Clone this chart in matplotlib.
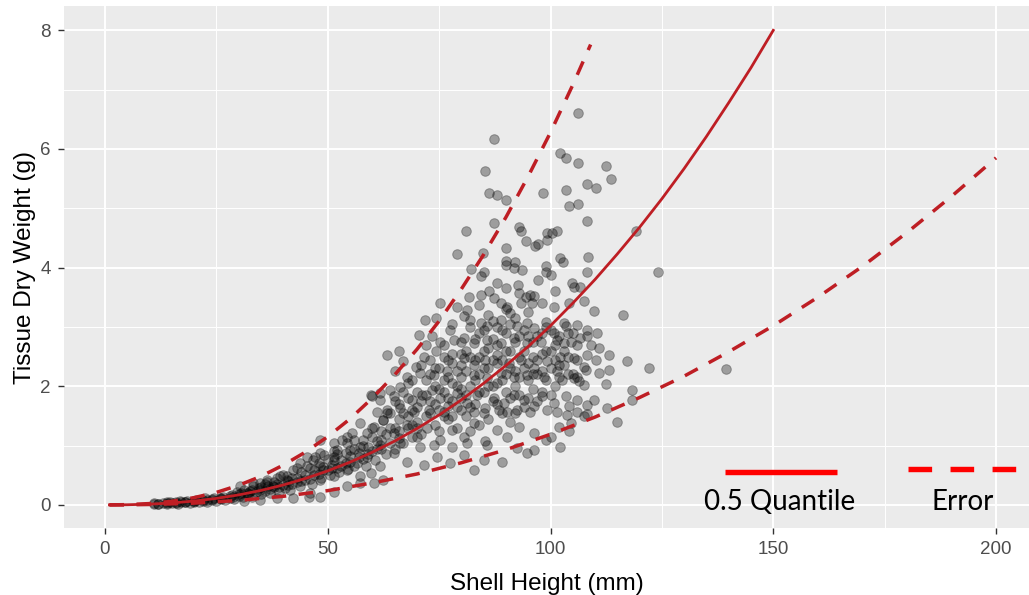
import matplotlib
matplotlib.use("Agg")
import matplotlib.pyplot as plt
from matplotlib.ticker import MultipleLocator

plt.rcParams['font.family'] = ['Liberation Sans', 'DejaVu Sans']

pts_top = [
    (106.1, 6.61), (87.3, 6.17), (102.2, 5.94), (103.4, 5.85), (106.1, 5.76), (112.5, 5.71),
    (113.5, 5.50), (85.4, 5.62), (86.1, 5.26), (88.0, 5.23), (90.0, 5.14), (98.3, 5.26),
    (103.4, 5.30), (108.1, 5.41), (110.1, 5.35), (104.1, 5.03), (106.1, 5.08), (108.1, 4.79),
    (87.3, 4.76), (81.1, 4.61), (92.9, 4.68), (93.3, 4.61), (99.3, 4.59), (100.4, 4.59),
    (101.5, 4.62), (99.3, 4.47), (94.4, 4.44), (96.6, 4.36), (97.2, 4.40), (90.0, 4.33),
    (79.0, 4.23), (84.8, 4.24), (119.3, 4.62), (102.2, 4.16), (102.8, 4.09), (108.4, 4.18),
    (89.9, 4.11), (90.1, 4.04), (92.1, 4.09), (91.8, 3.99), (93.6, 3.96), (99.0, 4.02),
    (99.0, 3.93), (100.0, 3.88), (82.2, 3.97), (85.0, 3.93), (84.3, 3.85), (108.1, 3.92),
    (124.2, 3.92), (88.0, 3.74), (90.0, 3.65), (92.7, 3.71), (97.1, 3.79), (104.9, 3.74),
    (105.3, 3.68), (106.7, 3.68), (101.0, 3.60), (81.6, 3.51), (84.3, 3.54), (86.1, 3.60),
    (92.9, 3.57), (94.4, 3.51), (96.2, 3.52),
]

pts_mid = [
    (88.8, 3.40), (93.3, 3.40), (95.9, 3.40), (98.1, 3.41), (75.3, 3.40), (79.0, 3.34),
    (81.3, 3.29), (83.9, 3.37), (90.3, 3.34), (100.7, 3.34), (104.1, 3.40), (107.5, 3.43),
    (109.7, 3.26), (116.3, 3.20), (87.3, 3.49), (95.5, 3.54),
    (71.9, 3.12), (74.2, 3.15), (77.5, 2.95), (80.5, 3.18), (82.0, 3.12), (84.3, 3.06),
    (85.8, 3.01), (88.8, 3.12), (91.0, 3.23), (92.5, 3.01), (94.8, 3.06), (96.2, 2.98),
    (98.9, 3.09), (100.7, 2.90), (103.0, 3.06), (106.0, 3.04), (108.2, 2.95), (110.5, 2.90),
    (70.4, 2.87), (73.4, 2.84), (75.3, 2.75), (78.3, 2.78), (80.5, 2.81), (82.8, 2.73),
    (85.8, 2.78), (88.8, 2.73), (91.8, 2.81), (94.8, 2.73), (97.8, 2.75), (101.5, 2.78),
    (104.5, 2.75), (106.7, 2.81), (109.0, 2.70), (103.0, 2.73),
    (63.3, 2.53), (65.9, 2.59), (67.0, 2.42), (69.7, 2.33), (71.7, 2.50), (74.2, 2.59),
    (76.0, 2.50), (77.9, 2.39), (80.5, 2.47), (82.8, 2.36), (85.4, 2.45), (88.0, 2.53),
    (90.6, 2.39), (93.3, 2.45), (96.2, 2.31), (99.3, 2.42), (102.2, 2.50), (105.2, 2.47),
    (107.5, 2.33), (110.1, 2.45), (113.1, 2.53), (117.1, 2.42), (122.1, 2.31), (113.1, 2.28),
    (110.9, 2.22), (106.0, 2.16), (101.5, 2.25), (98.5, 2.16), (94.8, 2.19), (91.8, 2.16),
    (88.8, 2.22), (85.8, 2.14), (82.8, 2.19), (79.8, 2.16), (76.8, 2.25), (73.8, 2.19),
    (70.8, 2.22), (67.8, 2.16), (65.2, 2.25),
    (110.9, 2.64), (112.4, 2.03), (108.1, 2.53), (107.9, 2.28), (105.2, 2.14), (106.4, 2.08),
    (107.5, 2.02), (102.6, 2.11), (108.1, 2.85), (103.4, 3.01), (139.5, 2.29),
]

pts_low = [
    (59.9, 1.83), (61.8, 1.88), (64.0, 1.94), (66.3, 1.99), (68.9, 1.77), (71.2, 1.85),
    (73.4, 1.94), (75.3, 1.80), (77.1, 1.66), (79.0, 1.88), (81.3, 1.71), (83.5, 1.85),
    (85.4, 1.63), (87.3, 1.80), (89.5, 1.71), (91.8, 1.85), (94.0, 1.77), (96.2, 1.66),
    (98.1, 1.83), (100.7, 1.71), (103.4, 1.83), (106.0, 1.77), (108.2, 1.69), (118.4, 1.94),
    (118.4, 1.77), (112.7, 1.63), (109.7, 1.77), (104.1, 1.66), (101.5, 1.57), (99.3, 1.60),
    (95.5, 1.57), (92.5, 1.60), (90.3, 1.57), (88.4, 1.60), (82.8, 1.57), (79.8, 1.60),
    (76.0, 1.57), (72.7, 1.60), (69.3, 1.57), (66.3, 1.63), (63.3, 1.60), (61.0, 1.57),
    (57.3, 1.38), (59.9, 1.29), (62.5, 1.43), (64.8, 1.21), (67.8, 1.35), (70.0, 1.15),
    (72.3, 1.29), (75.3, 1.10), (77.9, 1.26), (80.5, 1.15), (82.8, 1.38), (85.4, 1.07),
    (88.0, 1.26), (90.3, 1.15), (92.9, 1.32), (96.2, 1.21), (98.9, 1.10), (101.9, 1.32),
    (104.5, 1.38), (107.5, 1.49), (115.0, 1.40), (102.2, 0.98), (94.8, 0.87), (89.1, 0.73),
    (100.0, 1.15), (85.8, 1.01), (81.3, 1.04), (77.9, 0.98), (73.8, 1.01), (70.8, 0.98),
    (66.3, 1.04), (61.8, 1.01), (58.0, 1.10), (54.3, 1.15), (51.3, 1.04), (48.3, 1.10),
    (45.3, 0.81), (48.3, 0.87), (51.3, 0.76), (55.1, 0.93), (58.8, 0.81), (61.8, 0.65),
    (64.8, 0.87), (67.8, 0.73), (71.5, 0.67), (74.5, 0.81), (77.5, 0.70), (80.5, 0.84),
    (82.8, 0.59), (85.0, 0.76), (96.2, 0.93), (92.5, 0.96),
    (104.1, 1.24), (103.7, 1.52), (106.0, 1.56), (108.1, 1.53),
    (59.6, 1.85), (61.8, 1.77), (64.8, 1.83),
]

pts_core = [
    (62, 1.25), (64, 1.55), (65, 1.75), (66, 1.45), (67, 1.90), (68, 1.30), (68, 2.05),
    (69, 1.60), (70, 1.40), (70, 1.90), (71, 2.35), (72, 1.50), (72, 2.10), (73, 1.75),
    (73, 2.45), (74, 1.35), (74, 2.00), (75, 2.30), (75, 1.60), (76, 1.90), (76, 2.70),
    (77, 1.45), (77, 2.15), (78, 1.75), (78, 2.55), (78, 3.05), (79, 1.30), (79, 2.00),
    (80, 2.35), (80, 2.75), (80, 1.80), (81, 1.50), (81, 2.60), (82, 2.00), (82, 3.00),
    (83, 1.70), (83, 2.45), (84, 2.20), (84, 2.90), (84, 1.35), (85, 1.90), (85, 2.60),
    (86, 3.20), (86, 2.30), (86, 1.45), (87, 2.00), (87, 2.80), (88, 1.70), (88, 2.40),
    (88, 3.00), (89, 2.10), (89, 2.95), (90, 1.90), (90, 2.60), (90, 3.30), (91, 2.30),
    (91, 1.40), (92, 2.00), (92, 2.75), (92, 3.15), (93, 2.50), (93, 1.85), (94, 2.30),
    (94, 2.95), (95, 2.10), (95, 3.25), (96, 2.50), (96, 1.95), (97, 2.85), (97, 2.20),
    (98, 2.55), (98, 1.90), (99, 3.00), (100, 2.30), (100, 2.60), (101, 2.00), (102, 2.85),
    (102, 2.35), (103, 2.60), (104, 2.20), (105, 2.90), (106, 2.45),
]

pts_core2 = [
    (66, 1.70), (67, 1.55), (68, 1.80), (69, 2.10), (69, 1.35), (70, 1.65), (71, 1.75),
    (71, 1.20), (72, 1.85), (72, 2.70), (73, 1.55), (73, 2.20), (74, 1.70), (74, 2.30),
    (75, 1.95), (75, 1.25), (76, 2.10), (76, 1.50), (77, 1.80), (77, 2.45), (78, 2.05),
    (78, 1.50), (79, 2.25), (79, 1.65), (80, 1.95), (80, 2.55), (81, 1.85), (81, 2.25),
    (82, 1.65), (82, 2.50), (82, 1.25), (83, 2.10), (83, 2.80), (84, 1.90), (84, 2.50),
    (85, 1.55), (85, 2.30), (85, 2.95), (86, 2.00), (86, 2.65), (87, 1.75), (87, 2.45),
    (87, 3.10), (88, 2.05), (88, 2.70), (89, 1.55), (89, 2.45), (90, 2.20), (90, 2.90),
    (91, 1.80), (91, 2.60), (91, 3.05), (92, 2.25), (92, 1.55), (93, 2.15), (93, 2.85),
    (94, 1.65), (94, 2.60), (95, 2.40), (95, 1.80), (95, 2.85), (96, 2.20), (96, 2.75),
    (97, 1.75), (97, 2.45), (98, 2.25), (98, 2.90), (99, 2.10), (99, 2.60), (100, 1.85),
    (100, 2.95), (101, 2.45), (101, 2.70), (102, 2.15), (103, 2.35), (104, 2.90),
    (104, 2.50), (105, 2.20), (106, 2.70),
]

pts_small = [
    (42.3, 0.59), (43.8, 0.70), (46.8, 0.76), (48.3, 0.65), (51.3, 0.81), (52.1, 0.93),
    (54.3, 1.04), (55.8, 1.10), (57.3, 0.98), (58.8, 1.21), (60.3, 1.32), (62.5, 1.43),
    (63.3, 1.55), (54.3, 0.59), (57.3, 0.48), (51.3, 0.48), (48.3, 0.42), (40.8, 0.42),
    (37.8, 0.31), (34.8, 0.25), (31.8, 0.20), (28.8, 0.14), (25.8, 0.11), (22.9, 0.08),
    (19.9, 0.07), (16.9, 0.06), (13.9, 0.04), (10.9, 0.03), (30.3, 0.31), (33.3, 0.37),
    (36.3, 0.42), (39.3, 0.48), (41.6, 0.25), (43.8, 0.31), (48.3, 0.14), (46.1, 0.20),
    (60.3, 0.37), (62.5, 0.42),
    (55.4, 1.21), (53.2, 1.10), (51.3, 0.90), (49.1, 0.84), (47.2, 0.81), (45.3, 0.65),
    (43.1, 0.62), (40.8, 0.48), (38.6, 0.45), (36.3, 0.39), (34.8, 0.37), (33.3, 0.31),
    (31.1, 0.25), (29.6, 0.22), (42.3, 0.11), (38.6, 0.11), (34.8, 0.08), (31.1, 0.06),
    (51.3, 0.22), (54.3, 0.31), (57.3, 0.37), (59.6, 0.53), (45.7, 0.14),
    (11, 0.02), (12, 0.01), (13, 0.03), (14, 0.02), (14.5, 0.04), (15, 0.03), (16, 0.04),
    (16.5, 0.02), (17, 0.05), (18, 0.04), (18.5, 0.06), (19, 0.03), (20, 0.06), (20.5, 0.09),
    (21, 0.05), (22, 0.07), (22.5, 0.11), (23, 0.05), (24, 0.09), (24.5, 0.12), (25, 0.07),
    (26, 0.10), (26.5, 0.14), (27, 0.08), (28, 0.12), (28.5, 0.17), (29, 0.10), (30, 0.15),
    (30.5, 0.20), (31, 0.13), (32, 0.17), (32.5, 0.24), (33, 0.14), (34, 0.22), (34.5, 0.28),
    (35, 0.18), (36, 0.24), (36.5, 0.32), (37, 0.20), (38, 0.30), (38.5, 0.36), (39, 0.22),
    (40, 0.33), (40.5, 0.28), (41, 0.40), (42, 0.36), (43, 0.45), (44, 0.40), (45, 0.50),
    (46, 0.44), (47, 0.58), (48, 0.52), (49, 0.64), (50, 0.58), (51, 0.68), (52, 0.62),
    (53, 0.76), (54, 0.70), (55, 0.82), (56, 0.66), (57, 0.88), (58, 0.78), (59, 0.98),
    (60, 0.90), (61, 1.08), (62, 0.95), (63, 1.20), (64, 1.05), (65, 1.30), (66, 1.12),
    (40, 0.50), (41, 0.34), (42, 0.46), (43, 0.38), (44, 0.55), (45, 0.42), (46, 0.62),
    (46.5, 0.35), (47, 0.50), (48, 0.70), (48.5, 0.45), (49, 0.58), (50, 0.78), (50.5, 0.50),
    (51, 0.62), (52, 0.85), (52.5, 0.55), (53, 0.66), (54, 0.88), (54.5, 0.60), (55, 0.72),
    (56, 0.95), (56.5, 0.70), (57, 0.80), (58, 1.00), (58.5, 0.65), (59, 0.85), (60, 1.15),
    (60.5, 0.75), (61, 0.95), (62, 1.10), (63, 0.85), (64, 1.30), (65, 0.95), (66, 1.25),
    (67, 1.05), (68, 1.50), (69, 1.15), (70, 1.30), (35, 0.30), (36, 0.35), (37, 0.26),
    (38, 0.38), (39, 0.30), (33, 0.25), (32, 0.20), (30, 0.18), (28, 0.15), (26, 0.12),
    (24, 0.10), (22, 0.08), (20, 0.05), (18, 0.05), (16, 0.03), (14, 0.03), (12, 0.02),
]

# fitted quantile curves
q50_x = [1, 5, 10, 15, 20, 25, 30, 35, 40, 45, 50, 55, 60, 65, 70, 75, 80, 85, 90, 95,
         100, 105, 110, 115, 120, 125, 130, 135, 140, 145, 150]
q50_y = [0.0, 0.002, 0.012, 0.032, 0.064, 0.109, 0.168, 0.243, 0.335, 0.445, 0.573, 0.72,
         0.887, 1.075, 1.285, 1.516, 1.77, 2.05, 2.35, 2.67, 3.02, 3.40, 3.80, 4.23, 4.68,
         5.16, 5.67, 6.21, 6.78, 7.37, 8.0]

upper_x = [1, 5, 10, 15, 20, 25, 30, 35, 40, 45, 50, 55, 60, 65, 70, 75, 80, 85, 90, 95,
           100, 105, 109]
upper_y = [0.0, 0.004, 0.022, 0.06, 0.122, 0.21, 0.33, 0.48, 0.67, 0.89, 1.15, 1.45, 1.80,
           2.19, 2.62, 3.10, 3.64, 4.22, 4.85, 5.54, 6.28, 7.08, 7.76]

lower_x = [1, 5, 10, 20, 30, 40, 50, 60, 70, 80, 90, 100, 110, 120, 130, 140, 150, 160,
           170, 180, 190, 200]
lower_y = [0.0, 0.001, 0.006, 0.029, 0.075, 0.144, 0.24, 0.37, 0.52, 0.71, 0.93, 1.19,
           1.48, 1.81, 2.17, 2.58, 3.02, 3.50, 4.02, 4.59, 5.20, 5.85]

line_col = '#BE1E24'

all_pts = pts_top + pts_mid + pts_low + pts_core + pts_core2 + pts_small
shell_height = [p[0] for p in all_pts]
dry_weight = [p[1] for p in all_pts]

fig = plt.figure(figsize=(10.29, 5.95), dpi=100)
ax = fig.add_axes([64 / 1029, 67 / 595, 965 / 1029, 522 / 595])
ax.set_facecolor('#EBEBEB')
for s in ax.spines.values():
    s.set_visible(False)

ax.scatter(shell_height, dry_weight, s=48, facecolor=(0, 0, 0, 0.33),
           edgecolor=(0, 0, 0, 0.3), linewidth=0.7, zorder=2)

ax.plot(q50_x, q50_y, color=line_col, lw=2.0, zorder=3)
ax.plot(upper_x, upper_y, color=line_col, lw=2.5, ls=(0, (4.2, 3.6)), zorder=3)
ax.plot(lower_x, lower_y, color=line_col, lw=2.5, ls=(0, (4.2, 3.6)), zorder=3)

ax.set_xlim(-9.2, 207.4)
ax.set_ylim(-0.39, 8.41)
ax.xaxis.set_major_locator(MultipleLocator(50))
ax.xaxis.set_minor_locator(MultipleLocator(25))
ax.yaxis.set_major_locator(MultipleLocator(2))
ax.yaxis.set_minor_locator(MultipleLocator(1))
ax.grid(which='major', color='white', lw=1.4)
ax.grid(which='minor', color='white', lw=0.7)
ax.set_axisbelow(True)
ax.tick_params(which='major', length=4.5, width=1.0, color='#333333',
               labelcolor='#4D4D4D', labelsize=13.5, pad=5)
ax.tick_params(which='minor', length=0)

ax.set_xlabel('Shell Height (mm)', fontsize=17.5, labelpad=11)
ax.set_ylabel('Tissue Dry Weight (g)', fontsize=17.5, labelpad=3)

# hand-made key at the bottom right
ax.plot([0.685, 0.8007], [0.1079, 0.1079], transform=ax.transAxes, color='#FF0000',
        lw=3.9, solid_capstyle='butt', zorder=4)
ax.plot([0.875, 0.9883], [0.1125, 0.1125], transform=ax.transAxes, color='#FF0000',
        lw=3.9, ls=(0, (4.36, 3.4)), dash_capstyle='butt', zorder=4)
ax.text(0.7415, 0.05, '0.5 Quantile', transform=ax.transAxes, ha='center', va='center',
        fontsize=20, family=['Lato', 'DejaVu Sans'], color='black', zorder=5)
ax.text(0.9316, 0.05, 'Error', transform=ax.transAxes, ha='center', va='center',
        fontsize=20, family=['Lato', 'DejaVu Sans'], color='black', zorder=5)

fig.savefig('out.png', dpi=100)
